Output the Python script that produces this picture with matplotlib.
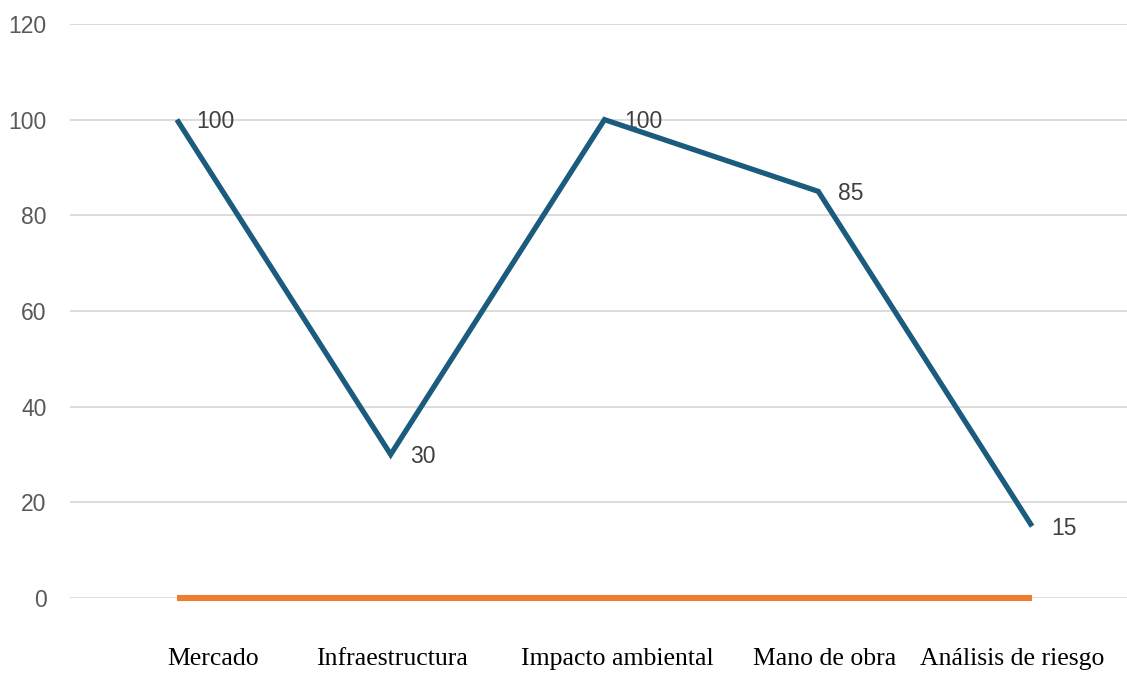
import matplotlib.pyplot as plt

categorias = ["Mercado", "Infraestructura", "Impacto ambiental", "Mano de obra", "Análisis de riesgo"]
puntaje = [100, 30, 100, 85, 15]
base = [0, 0, 0, 0, 0]
ticks_y = [0, 20, 40, 60, 80, 100, 120]

# desplazamiento horizontal de cada etiqueta de categoria (pixeles)
desplaz_etiq = [36, 1, 13, 6, -20]

fig = plt.figure(figsize=(11.27, 6.84), dpi=100)
ax = fig.add_axes([0.0621, 0.1257, 0.9485, 0.8393])

x = list(range(len(categorias)))
ax.plot(x, base, color="#ED7D31", lw=4.4, solid_capstyle="butt", zorder=3,
        clip_on=False)
ax.plot(x, puntaje, color="#1B5B7E", lw=3.8, solid_capstyle="butt",
        solid_joinstyle="miter", zorder=4, clip_on=False)

for xi, v in zip(x, puntaje):
    ax.annotate(str(v), (xi, v), xytext=(14, -1.5), textcoords="offset points",
                va="center", ha="left", fontsize=16.5, color="#404040",
                family="Liberation Sans")

ax.set_xlim(-0.5, len(categorias) - 0.5)
ax.set_ylim(0, 120)
ax.set_yticks(ticks_y)
ax.set_xticks([])
ax.grid(axis="y", color="#D9D9D9", lw=1.3)
ax.set_axisbelow(True)
for s in ax.spines.values():
    s.set_visible(False)
ax.tick_params(axis="y", length=0, pad=17, labelsize=16.5, labelcolor="#595959")
for lab in ax.get_yticklabels():
    lab.set_family("Liberation Sans")

for xi, nombre, dx in zip(x, categorias, desplaz_etiq):
    ax.annotate(nombre, (xi, 0), xytext=(dx * 0.72, -44), textcoords="offset points",
                ha="center", va="center", fontsize=18.5, color="black",
                family="Liberation Serif", annotation_clip=False)

fig.savefig("out.png", dpi=100)
